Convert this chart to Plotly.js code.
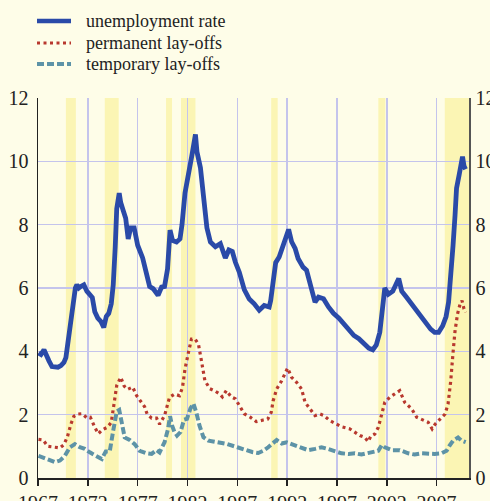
<!DOCTYPE html>
<html>
<head>
<meta charset="utf-8">
<script src="https://cdn.plot.ly/plotly-3.0.1.min.js"></script>
<style>
html,body{margin:0;padding:0;background:#fefde8;}
#chart{width:490px;height:501px;}
#chart svg text{font-family:"Liberation Serif","Times New Roman",serif !important;}
</style>
</head>
<body>
<div id="chart"></div>
<script>
// ---- data ----
const seriesNames = ["unemployment rate", "permanent lay-offs", "temporary lay-offs"];

const unempYears = [1967.05,1967.3,1967.6,1967.85,1968.1,1968.4,1968.7,1969.0,1969.3,1969.6,1969.8,1970.0,1970.25,1970.5,1970.75,1970.9,1971.1,1971.3,1971.6,1971.9,1972.2,1972.45,1972.7,1973.0,1973.3,1973.6,1973.85,1974.1,1974.35,1974.55,1974.75,1974.9,1975.15,1975.3,1975.55,1975.8,1976.05,1976.3,1976.65,1977.0,1977.5,1977.85,1978.2,1978.55,1979.05,1979.4,1979.7,1980.0,1980.25,1980.5,1980.9,1981.25,1981.45,1981.75,1982.1,1982.45,1982.8,1982.95,1983.3,1983.6,1983.95,1984.3,1984.8,1985.3,1985.8,1986.15,1986.5,1986.8,1987.2,1987.7,1988.2,1988.7,1989.2,1989.7,1990.2,1990.35,1990.6,1990.85,1991.2,1991.5,1991.85,1992.15,1992.45,1992.8,1993.1,1993.6,1993.95,1994.45,1994.8,1995.15,1995.65,1996.15,1996.65,1997.2,1997.7,1998.2,1998.7,1999.2,1999.7,2000.2,2000.6,2000.95,2001.3,2001.55,2001.8,2002.15,2002.6,2003.2,2003.5,2004.0,2004.6,2005.3,2005.9,2006.4,2006.8,2007.2,2007.6,2007.95,2008.2,2008.45,2008.65,2008.85,2009.0,2009.25,2009.45,2009.6,2009.75,2009.9];
const unempRate = [3.95,3.9,4.05,3.85,3.7,3.52,3.5,3.5,3.55,3.65,3.8,4.3,5.0,5.55,6.0,6.1,6.0,6.05,6.1,5.9,5.8,5.7,5.25,5.05,4.95,4.75,5.1,5.2,5.5,6.1,7.3,8.5,9.0,8.7,8.45,8.2,7.55,7.9,7.9,7.35,6.95,6.5,6.05,5.98,5.77,6.03,6.05,6.6,7.83,7.5,7.45,7.55,8.0,9.0,9.55,10.2,10.85,10.3,9.8,8.95,7.9,7.45,7.3,7.4,6.95,7.2,7.15,6.82,6.5,5.95,5.65,5.5,5.3,5.45,5.4,5.6,6.2,6.8,6.98,7.25,7.6,7.85,7.46,7.25,6.93,6.66,6.56,6.0,5.55,5.71,5.66,5.4,5.2,5.05,4.85,4.65,4.5,4.4,4.25,4.1,4.05,4.2,4.6,5.5,6.0,5.8,5.9,6.3,5.9,5.7,5.45,5.15,4.85,4.7,4.6,4.6,4.8,5.1,5.55,6.4,7.35,8.3,9.15,9.55,9.9,10.15,9.85,9.75];

const permYears = [1967.05,1967.5,1968.0,1968.5,1969.2,1969.6,1969.95,1970.3,1970.6,1971.0,1971.4,1971.9,1972.25,1972.7,1973.05,1973.45,1973.95,1974.35,1974.6,1974.9,1975.3,1975.65,1976.0,1976.5,1976.9,1977.3,1977.7,1977.95,1978.4,1978.9,1979.2,1979.7,1980.2,1980.7,1981.2,1981.5,1981.75,1982.1,1982.4,1982.75,1983.1,1983.4,1983.75,1984.25,1984.75,1985.25,1985.5,1985.9,1986.4,1986.8,1987.15,1987.7,1988.3,1988.9,1989.6,1990.05,1990.4,1990.6,1990.95,1991.45,1991.85,1992.05,1992.45,1992.95,1993.45,1993.8,1994.3,1994.8,1995.3,1995.7,1996.3,1996.95,1997.45,1998.3,1998.8,1999.3,1999.8,2000.13,2000.4,2000.8,2001.15,2001.5,2001.8,2002.3,2002.8,2003.3,2003.8,2004.5,2005.0,2005.5,2006.15,2006.55,2006.85,2007.35,2007.85,2008.15,2008.42,2008.65,2008.85,2009.1,2009.35,2009.55,2009.75,2009.92];
const permLayoffs = [1.22,1.2,1.0,0.97,0.95,1.05,1.3,1.7,1.95,2.02,2.03,1.9,1.92,1.6,1.4,1.52,1.6,1.75,2.3,2.92,3.18,2.9,2.8,2.87,2.6,2.42,2.25,2.02,1.89,1.89,1.7,1.97,2.55,2.65,2.6,2.86,3.44,3.97,4.39,4.39,4.23,3.7,3.07,2.82,2.75,2.65,2.56,2.76,2.56,2.5,2.32,2.03,1.92,1.78,1.83,1.86,2.07,2.44,2.81,3.07,3.34,3.47,3.18,3.02,2.81,2.39,2.18,1.97,2.02,1.97,1.81,1.7,1.62,1.55,1.44,1.34,1.28,1.15,1.32,1.39,1.6,2.07,2.39,2.55,2.65,2.76,2.39,2.18,1.92,1.86,1.76,1.55,1.7,1.86,2.02,2.34,3.07,3.97,4.65,5.18,5.49,5.6,5.34,5.23];

const tempYears = [1967.05,1967.9,1968.7,1969.2,1969.7,1970.2,1970.7,1971.2,1971.7,1972.2,1972.9,1973.4,1973.8,1974.2,1974.55,1974.9,1975.15,1975.4,1975.7,1976.2,1976.7,1977.2,1977.9,1978.4,1978.9,1979.2,1979.7,1980.05,1980.25,1980.45,1980.7,1980.95,1981.3,1981.65,1981.95,1982.3,1982.6,1982.9,1983.2,1983.6,1984.1,1985.0,1986.0,1987.0,1987.8,1988.5,1989.1,1989.6,1990.1,1990.6,1990.95,1991.45,1991.95,1992.45,1992.95,1993.45,1994.1,1994.8,1995.45,1996.1,1996.8,1997.45,1998.15,1998.8,1999.45,2000.15,2000.8,2001.15,2001.5,2001.8,2002.5,2003.3,2004.15,2004.8,2005.5,2006.15,2006.8,2007.5,2008.0,2008.3,2008.65,2009.15,2009.5,2009.92];
const tempLayoffs = [0.7,0.6,0.5,0.55,0.7,0.97,1.07,0.97,0.92,0.81,0.7,0.6,0.84,0.84,1.5,2.1,2.15,1.8,1.28,1.2,1.07,0.86,0.78,0.76,0.88,0.81,1.13,1.55,1.95,1.66,1.45,1.34,1.45,1.84,1.87,2.2,2.35,2.05,1.66,1.29,1.18,1.13,1.07,0.97,0.88,0.82,0.79,0.86,0.97,1.13,1.2,1.09,1.13,1.07,1.02,0.97,0.88,0.92,0.97,0.92,0.84,0.78,0.76,0.78,0.74,0.78,0.81,0.86,1.04,0.97,0.88,0.88,0.78,0.74,0.78,0.76,0.76,0.78,0.86,1.02,1.18,1.28,1.18,1.13];

const recessionStarts = [1969.8, 1973.7, 1979.85, 1981.35, 1990.4, 2001.15, 2007.82];
const recessionEnds   = [1970.8, 1975.1, 1980.45, 1982.8, 1991.05, 2001.85, 2010.3];

const xTickVals = [1967, 1972, 1977, 1982, 1987, 1992, 1997, 2002, 2007];
const yTickVals = [0, 2, 4, 6, 8, 10, 12];

// ---- styling ----
const BG = '#fefde8', BAND = '#fbf5b4', GRID = '#c4c4ec';
const BLUE = '#2a4aa8', RED = '#b8382e', TEAL = '#5d93a7';
const FONT = 'Liberation Serif';

const traces = [
  {x: unempYears, y: unempRate, type: 'scatter', mode: 'lines', name: seriesNames[0],
   line: {color: BLUE, width: 4.8}, hoverinfo: 'skip', showlegend: false},
  {x: permYears, y: permLayoffs, type: 'scatter', mode: 'lines', name: seriesNames[1],
   line: {color: RED, width: 3.2, dash: '3px,3.5px'}, hoverinfo: 'skip', showlegend: false},
  {x: tempYears, y: tempLayoffs, type: 'scatter', mode: 'lines', name: seriesNames[2],
   line: {color: TEAL, width: 4, dash: '7px,3px'}, hoverinfo: 'skip', showlegend: false},
  {x: [null], y: [null], yaxis: 'y2', type: 'scatter', mode: 'lines', showlegend: false, hoverinfo: 'skip'}
];

const shapes = recessionStarts.map((s, i) => ({
  type: 'rect', xref: 'x', yref: 'paper', x0: s, x1: recessionEnds[i], y0: 0, y1: 1,
  fillcolor: BAND, line: {width: 0}, layer: 'below'
}));

// legend (drawn by hand so spacing matches)
const W = 431, H = 380;
const legendStyles = [
  {color: BLUE, width: 4.5, dash: 'solid'},
  {color: RED, width: 3.2, dash: '3px,3.5px'},
  {color: TEAL, width: 4, dash: '7px,3px'}
];
const legendRowsPx = [21, 43, 64];
const annotations = [];
seriesNames.forEach((nm, i) => {
  const yp = (478 - legendRowsPx[i]) / H;
  shapes.push({type: 'line', xref: 'paper', yref: 'paper',
    x0: (37 - 38) / W, x1: (71 - 38) / W, y0: yp, y1: yp,
    line: legendStyles[i]});
  annotations.push({xref: 'paper', yref: 'paper', x: (84 - 38) / W, y: yp,
    xanchor: 'left', yanchor: 'middle', showarrow: false, text: nm,
    font: {family: FONT, size: 18, color: '#222'}});
});

const layout = {
  width: 490, height: 501,
  margin: {l: 38, r: 21, t: 98, b: 23, pad: 0},
  paper_bgcolor: BG, plot_bgcolor: BG,
  showlegend: false,
  font: {family: FONT, size: 20, color: '#222'},
  xaxis: {
    range: [1967, 2010.25], tickvals: xTickVals, ticktext: xTickVals.map(String),
    showgrid: true, gridcolor: GRID, gridwidth: 1.5,
    showline: true, linecolor: '#222', linewidth: 1.5,
    ticks: 'outside', ticklen: 6, tickcolor: '#222', tickwidth: 1.5,
    zeroline: false, fixedrange: true,
    tickfont: {family: FONT, size: 20, color: '#222'}
  },
  yaxis: {
    range: [0, 12], tickvals: yTickVals,
    showgrid: true, gridcolor: GRID, gridwidth: 1.5,
    showline: true, linecolor: '#222', linewidth: 1.5,
    ticks: '', zeroline: false, fixedrange: true, ticklabelstandoff: 4,
    tickfont: {family: FONT, size: 20, color: '#222'}
  },
  yaxis2: {
    range: [0, 12], tickvals: yTickVals, overlaying: 'y', side: 'right',
    showgrid: false, showline: true, linecolor: '#555', linewidth: 1.5,
    ticks: '', zeroline: false, fixedrange: true, ticklabelstandoff: 1,
    tickfont: {family: FONT, size: 20, color: '#222'}
  },
  shapes: shapes,
  annotations: annotations
};

Plotly.newPlot('chart', traces, layout, {staticPlot: true, displayModeBar: false});
</script>
</body>
</html>
